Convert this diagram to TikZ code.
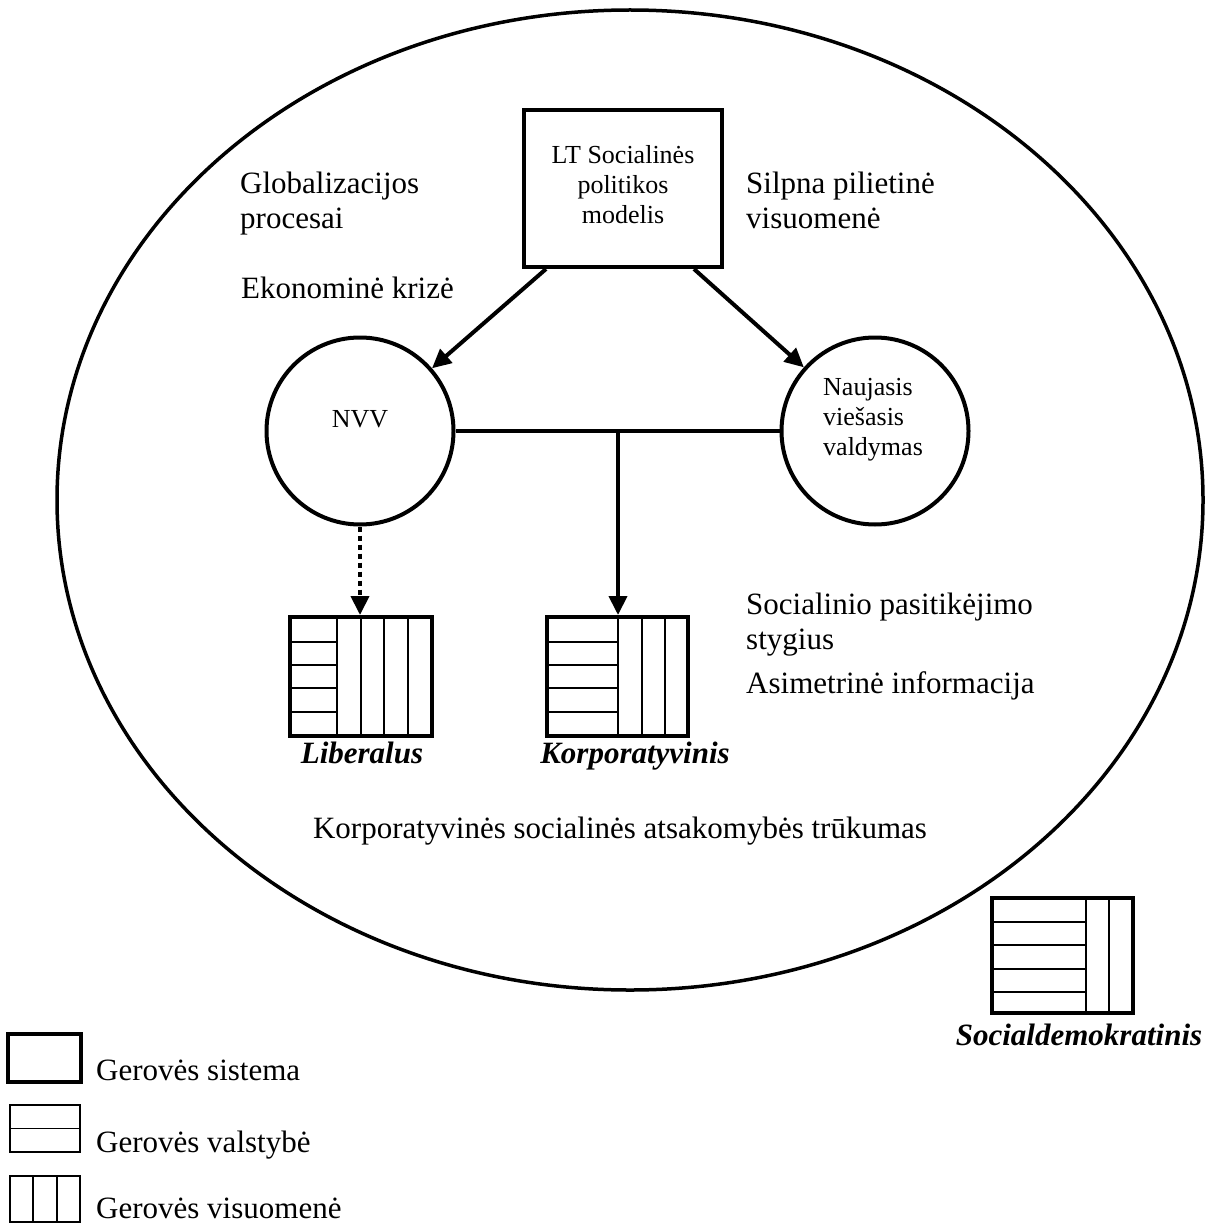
\documentclass[tikz,border=0pt]{standalone}
\usepackage{fontspec}
\setmainfont{Liberation Serif}
\usetikzlibrary{arrows.meta,shapes.geometric,calc}
\begin{document}
\begin{tikzpicture}[x=1pt,y=-1pt,
  big/.style={font=\fontsize{31}{35}\selectfont, inner sep=0pt},
  small/.style={font=\fontsize{26}{30}\selectfont, inner sep=0pt},
  lab/.style={font=\fontsize{31}{35}\selectfont\bfseries\itshape, inner sep=0pt},
  wbox/.style={draw, line width=4pt, rectangle, inner sep=0pt},
  thinbox/.style={draw, line width=2pt, rectangle, inner sep=0pt},
  ring/.style={draw, circle, line width=4pt, minimum size=187pt, inner sep=0pt},
  stripe/.style={line width=1.6pt},
  arr/.style={line width=4pt, -{Triangle[length=19pt,width=18pt]}},
  dotarr/.style={line width=4pt, dash pattern=on 5pt off 4pt, -{Triangle[length=19pt,width=18pt]}},
  conn/.style={line width=4pt},
]
\useasboundingbox (0,0) rectangle (1208,1225);

% outer ellipse
\node (world) [draw, ellipse, line width=3.5pt, minimum width=1146pt, minimum height=980pt, inner sep=0pt] at (630,500) {};

% top box
\node (lt) [wbox, minimum width=198pt, minimum height=157pt] at (623,188.5) {};
\node (lttext) [small, align=center, anchor=north] at (623,145) {LT Socialinės\\politikos\\modelis};

% circles
\node (nvv) [ring] at (360,431) {};
\node (nvvtext) [small, anchor=base] at (360,427) {NVV};
\node (nvm) [ring] at (875,431) {};
\node (nvmtext) [small, align=left, anchor=north west] at (823,378) {Naujasis\\viešasis\\valdymas};

% side texts
\node (glob) [big, align=left, anchor=north west] at (240,172) {Globalizacijos\\procesai};
\node (ekon) [big, anchor=base west] at (241,298) {Ekonominė krizė};
\node (silp) [big, align=left, anchor=north west] at (746,172) {Silpna pilietinė\\visuomenė};
\node (soc) [big, align=left, anchor=north west] at (746,593) {Socialinio pasitikėjimo\\stygius};
\node (asim) [big, anchor=base west] at (746,693) {Asimetrinė informacija};
\node (kor) [big, anchor=base] at (620,838) {Korporatyvinės socialinės atsakomybės trūkumas};

% welfare boxes
\node (lib) [wbox, minimum width=142pt, minimum height=119pt] at (361,676.5) {};
\draw[stripe] (290,642) -- (337,642) (290,665) -- (337,665) (290,688) -- (337,688) (290,712) -- (337,712);
\draw[stripe] (337,617) -- (337,736) (361,617) -- (361,736) (384,617) -- (384,736) (408,617) -- (408,736);
\node (liblab) [lab, anchor=base] at (362,763) {Liberalus};

\node (korp) [wbox, minimum width=141pt, minimum height=119pt] at (617.5,676.5) {};
\draw[stripe] (547,642) -- (618,642) (547,665) -- (618,665) (547,688) -- (618,688) (547,712) -- (618,712);
\draw[stripe] (618,617) -- (618,736) (642,617) -- (642,736) (665,617) -- (665,736);
\node (korplab) [lab, anchor=base] at (635,763) {Korporatyvinis};

\node (sd) [wbox, minimum width=141pt, minimum height=115pt] at (1062.5,955.5) {};
\draw[stripe] (992,922) -- (1086,922) (992,945) -- (1086,945) (992,969) -- (1086,969) (992,992) -- (1086,992);
\draw[stripe] (1086,898) -- (1086,1013) (1109,898) -- (1109,1013);
\node (sdlab) [lab, anchor=base] at (1079,1045) {Socialdemokratinis};

% connectors
\coordinate (ltl) at ($(lt.south west)+(24,0)$);
\coordinate (ltr) at ($(lt.south east)+(-30,0)$);
\draw[arr] (ltl) -- (nvv);
\draw[arr] (ltr) -- (nvm);
\draw[conn] (nvv.east) -- (nvm.west);
\coordinate (junc) at (618,431);
\draw[arr] (junc) -- (junc |- korp.north);
\draw[dotarr] (nvv.south) -- (nvv.south |- lib.north);

% legend
\node (leg1) [wbox, minimum width=73pt, minimum height=48pt] at (44.5,1058) {};
\node (leg1t) [big, anchor=base west] at (96,1080) {Gerovės sistema};
\node (leg2) [thinbox, minimum width=70pt, minimum height=47pt] at (45,1128.5) {};
\draw[stripe] (leg2.west) -- (leg2.east);
\node (leg2t) [big, anchor=base west] at (96,1152) {Gerovės valstybė};
\node (leg3) [thinbox, minimum width=70pt, minimum height=46pt] at (45,1199) {};
\draw[stripe] (33,1176) -- (33,1222) (57,1176) -- (57,1222);
\node (leg3t) [big, anchor=base west] at (96,1218) {Gerovės visuomenė};
\end{tikzpicture}
\end{document}
